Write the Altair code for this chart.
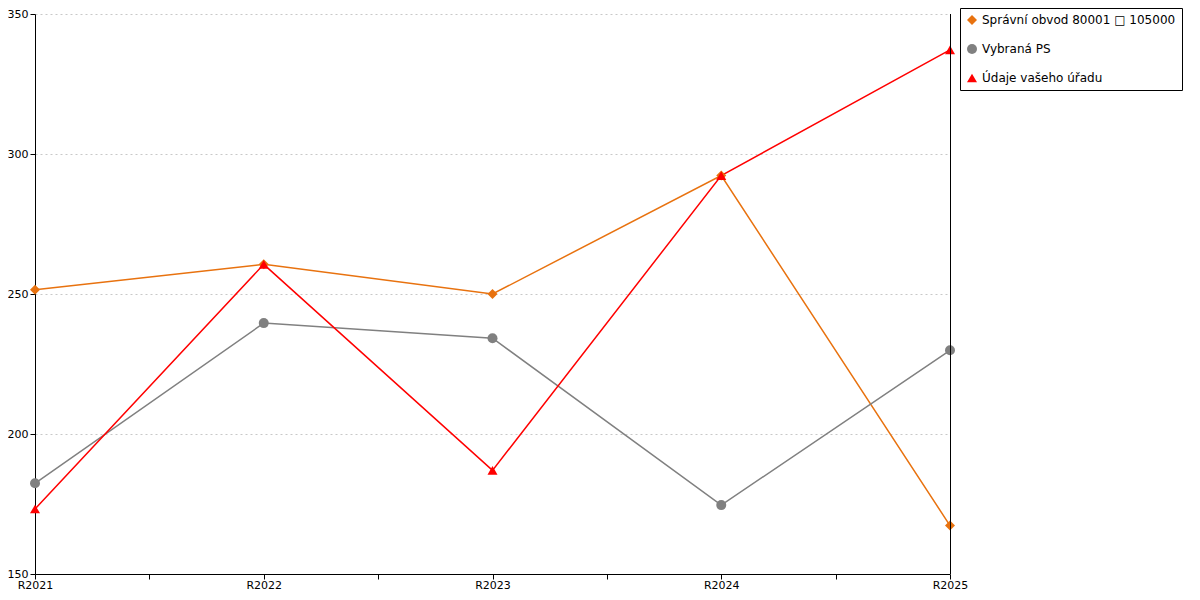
import altair as alt
import pandas as pd

categories = ["R2021", "R2022", "R2023", "R2024", "R2025"]
series_names = ["Správní obvod 80001 □ 105000", "Vybraná PS", "Údaje vašeho úřadu"]
orange_vals = [251.5, 260.6, 250.0, 292.3, 167.3]
gray_vals = [182.4, 239.6, 234.2, 174.6, 229.9]
red_vals = [173.2, 260.6, 187.0, 292.3, 337.2]
y_ticks = [150, 200, 250, 300, 350]
x_ticks = [0, 0.5, 1, 1.5, 2, 2.5, 3, 3.5, 4]

colors = ["#e8720f", "#808080", "#ff0000"]
shapes = ["diamond", "circle", "triangle-up"]

rows = []
for name, vals in zip(series_names, [orange_vals, gray_vals, red_vals]):
    for i, (c, v) in enumerate(zip(categories, vals)):
        rows.append({"series": name, "idx": i, "year": c, "value": v})
df = pd.DataFrame(rows)

W, H = 915, 560
label_expr = "[" + ",".join('"%s"' % c for c in categories) + "]"
label_expr = f"datum.value % 1 == 0 ? {label_expr}[datum.value] : ''"

x_enc = alt.X("idx:Q", scale=alt.Scale(domain=[0, len(categories) - 1], nice=False, zero=False),
              axis=alt.Axis(values=x_ticks, labelExpr=label_expr, title=None, grid=False,
                            tickSize=5, labelPadding=0, labelFlush=False))
y_enc = alt.Y("value:Q", scale=alt.Scale(domain=[150, 350], nice=False, zero=False),
              axis=alt.Axis(values=y_ticks, title=None, grid=True, gridDash=[2, 3],
                            gridColor="#c8c8c8", tickSize=5, labelPadding=2))
color_enc = alt.Color("series:N", scale=alt.Scale(domain=series_names, range=colors),
                      legend=alt.Legend(title=None, orient="none", legendX=925, legendY=-6,
                                        strokeColor="black", fillColor="white", padding=6,
                                        labelFontSize=12, labelFont="DejaVu Sans", labelColor="black",
                                        symbolSize=100, symbolStrokeWidth=0, rowPadding=17,
                                        labelOffset=4, labelLimit=400))
shape_enc = alt.Shape("series:N", scale=alt.Scale(domain=series_names, range=shapes))

base = alt.Chart(df).encode(x=x_enc, y=y_enc, color=color_enc, shape=shape_enc,
                            detail="series:N")

lines = base.mark_line(strokeWidth=1.5).encode(
    shape=alt.Shape("series:N", scale=alt.Scale(domain=series_names, range=shapes), legend=None))
points = base.mark_point(filled=True, size=100, opacity=1)

right_rule = alt.Chart(df).mark_rule(color="black", strokeWidth=1).encode(
    x=alt.value(W + 0.5), y=alt.value(0), y2=alt.value(H))

chart = alt.layer(lines, points, right_rule).properties(
    width=W, height=H,
    autosize=alt.AutoSizeParams(type="none"),
    padding={"left": 27, "top": 6, "right": 242, "bottom": 18},
).configure_axis(
    labelFont="DejaVu Sans", labelFontSize=11, labelColor="black",
    domainColor="black", tickColor="black", domainWidth=1, tickWidth=1,
).configure_view(stroke=None)

chart.save("out.html", embed_options={"renderer": "svg", "actions": False})
